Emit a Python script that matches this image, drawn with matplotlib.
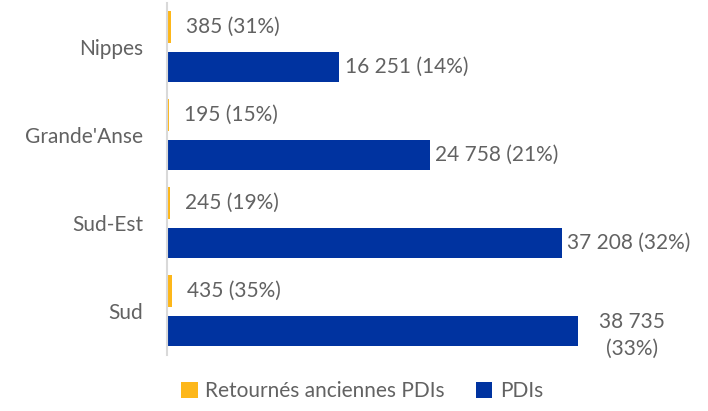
import numpy as np
import matplotlib.pyplot as plt

# data (top to bottom)
regions = ["Nippes", "Grande'Anse", "Sud-Est", "Sud"]
retournes = [385, 195, 245, 435]
retournes_pct = [31, 15, 19, 35]
pdis = [16251, 24758, 37208, 38735]
pdis_pct = [14, 21, 32, 33]
legend_labels = ["Retournés anciennes PDIs", "PDIs"]

yellow = '#FDB71A'
blue = '#0033A0'
grey = '#626262'

plt.rcParams['font.family'] = ['Lato', 'DejaVu Sans']


def fmt(v):
    return f"{v:,}".replace(",", " ")


fig = plt.figure(figsize=(7.08, 4.11), dpi=100)
ax = fig.add_axes([167 / 708, 56 / 411, 533 / 708, 352 / 411])

y = np.arange(len(regions))[::-1].astype(float)
off = 0.23
h1 = ax.barh(y + off, retournes, height=0.36, color=yellow, label=legend_labels[0])
h2 = ax.barh(y - off, pdis, height=0.34, color=blue, label=legend_labels[1])

ax.set_ylim(-0.5, len(regions) - 0.5)
ax.set_xlim(0, 50230)

fs = 15
for i in range(len(regions)):
    ax.annotate(f"{fmt(retournes[i])} ({retournes_pct[i]}%)", (retournes[i], y[i] + off),
                xytext=(11, 0), textcoords='offset points', va='center', ha='left',
                fontsize=fs, color=grey)
    if i == len(regions) - 1:
        ax.annotate(f"{fmt(pdis[i])}\n({pdis_pct[i]}%)", (pdis[i], y[i] - off),
                    xytext=(39, -3), textcoords='offset points', va='center', ha='center',
                    fontsize=fs, color=grey, linespacing=1.45)
    else:
        ax.annotate(f"{fmt(pdis[i])} ({pdis_pct[i]}%)", (pdis[i], y[i] - off),
                    xytext=(4, 0), textcoords='offset points', va='center', ha='left',
                    fontsize=fs, color=grey)

ax.set_yticks(y)
ax.set_yticklabels(regions, fontsize=fs, color=grey)
ax.tick_params(axis='y', length=0, pad=17)
ax.set_xticks([])
for s in ['top', 'right', 'bottom']:
    ax.spines[s].set_visible(False)
ax.spines['left'].set_color('#D9D9D9')
ax.spines['left'].set_linewidth(1.5)

fig.legend(handles=[h1, h2], labels=legend_labels, loc='center', bbox_to_anchor=(362 / 708, 1 - 391 / 411),
           ncol=2, frameon=False, handlelength=0.8, handleheight=0.8,
           handletextpad=0.35, columnspacing=1.5, labelcolor=grey, prop={'size': fs})

fig.savefig('out.png', dpi=100)
